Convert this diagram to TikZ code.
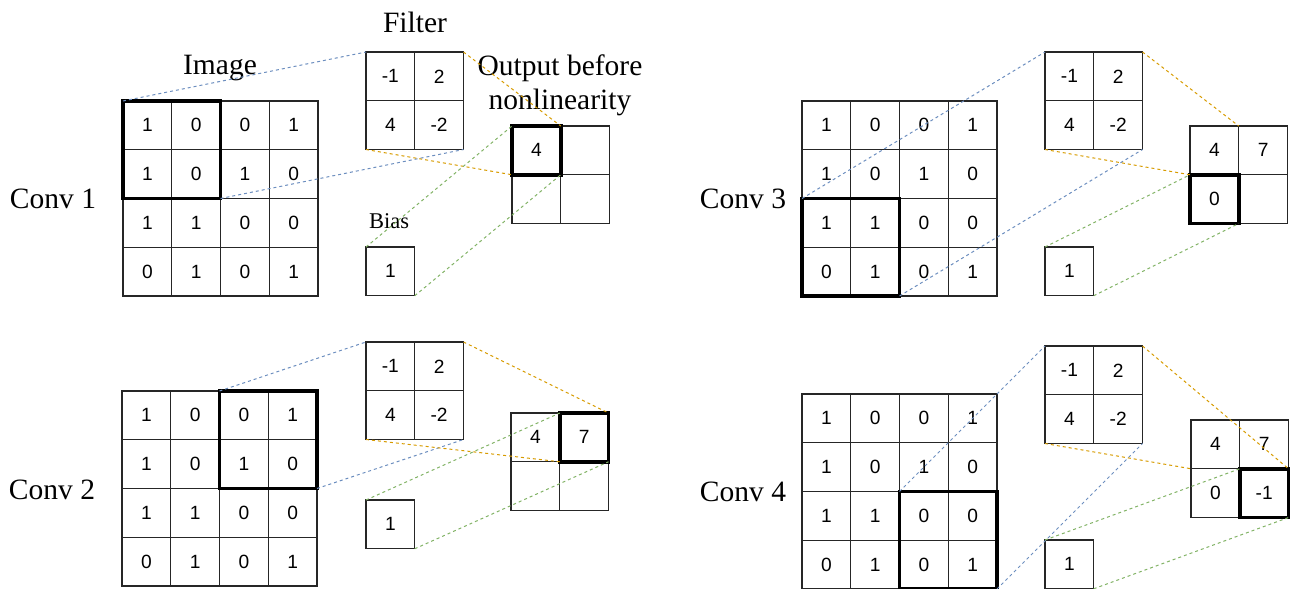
\documentclass[tikz,border=0pt]{standalone}
\usepackage{fontspec}
\setmainfont{Liberation Serif}
\newfontfamily\cellfont{Liberation Sans}
\definecolor{dioblue}{HTML}{6C8EBF}
\definecolor{dioorange}{HTML}{D79B00}
\definecolor{diogreen}{HTML}{82B366}
\tikzset{
  cell/.style={draw=black!85, line width=0.8pt, minimum size=29.25pt, inner sep=0pt, outer sep=0pt,
    font=\cellfont\fontsize{11.5}{12}\selectfont},
  window/.style={draw=black, line width=2.1pt},
  link/.style={line width=0.6pt, dash pattern=on 1.8pt off 1.8pt},
  title/.style={font=\fontsize{17.7}{20.4}\selectfont, anchor=base, inner sep=0pt},
}
\begin{document}
\begin{tikzpicture}[x=0.6pt, y=-0.6pt]
    \useasboundingbox (0,0) rectangle (1296,588);
    % Grids of the four steps
    \foreach \n/\ix/\iy/\fx/\fy/\bx/\by/\ox/\oy/\lx/\ly/\olist in {
        1/123/101/366/52/366/247/512/126/53/208/{4,{},{},{}},
        2/122/391/366/342/366/500/511/413/52/499/{4,7,{},{}},
        3/802/101/1045/52/1045/247/1190/126/743/208/{4,7,0,{}},
        4/802/394/1045/346/1045/540/1191/420/743/501/{4,7,0,-1}}
    {
        \foreach \val [count=\k from 0] in {1,0,0,1,1,0,1,0,1,1,0,0,0,1,0,1} {
            \pgfmathtruncatemacro\rr{div(\k,4)+1}
            \pgfmathtruncatemacro\cc{mod(\k,4)+1}
            \node[cell] (img\n-\rr-\cc) at (\ix+48.75*\cc-24.375, \iy+48.75*\rr-24.375) {\val};
        }
        \foreach \val [count=\k from 0] in {-1,2,4,-2} {
            \pgfmathtruncatemacro\rr{div(\k,2)+1}
            \pgfmathtruncatemacro\cc{mod(\k,2)+1}
            \node[cell] (flt\n-\rr-\cc) at (\fx+48.75*\cc-24.375, \fy+48.75*\rr-24.375) {\val};
        }
        \foreach \val [count=\k from 0] in \olist {
            \pgfmathtruncatemacro\rr{div(\k,2)+1}
            \pgfmathtruncatemacro\cc{mod(\k,2)+1}
            \node[cell] (out\n-\rr-\cc) at (\ox+48.75*\cc-24.375, \oy+48.75*\rr-24.375) {\val};
        }
        \node[cell] (bias\n) at (\bx+24.375, \by+24.375) {1};
        \node[title] (conv\n) at (\lx,\ly) {Conv \n};
    }

    % Headings
    \node[title] (filter) at (415,32) {Filter};
    \node[title] (image) at (220,74) {Image};
    \node[title, anchor=north, align=center] (output) at (560,54) {Output before\\nonlinearity};
    \node[title, font=\fontsize{13.5}{15}\selectfont] (biastext) at (389,228) {Bias};

    % Conv 1
    \draw[window] (img1-1-1.north west) rectangle (img1-2-2.south east);
    \draw[window] (out1-1-1.north west) rectangle (out1-1-1.south east);
    \draw[link, dioblue] (img1-1-1.north west) -- (flt1-1-1.north west) (img1-2-2.south east) -- (flt1-2-2.south east);
    \draw[link, dioorange] (flt1-1-2.north east) -- (out1-1-1.north east) (flt1-2-1.south west) -- (out1-1-1.south west);
    \draw[link, diogreen] (bias1.north west) -- (out1-1-1.north west) (bias1.south east) -- (out1-1-1.south east);

    % Conv 2
    \draw[window] (img2-1-3.north west) rectangle (img2-2-4.south east);
    \draw[window] (out2-1-2.north west) rectangle (out2-1-2.south east);
    \draw[link, dioblue] (img2-1-3.north west) -- (flt2-1-1.north west) (img2-2-4.south east) -- (flt2-2-2.south east);
    \draw[link, dioorange] (flt2-1-2.north east) -- (out2-1-2.north east) (flt2-2-1.south west) -- (out2-1-2.south west);
    \draw[link, diogreen] (bias2.north west) -- (out2-1-2.north west) (bias2.south east) -- (out2-1-2.south east);

    % Conv 3
    \draw[window] (img3-3-1.north west) rectangle (img3-4-2.south east);
    \draw[window] (out3-2-1.north west) rectangle (out3-2-1.south east);
    \draw[link, dioblue] (img3-3-1.north west) -- (flt3-1-1.north west) (img3-4-2.south east) -- (flt3-2-2.south east);
    \draw[link, dioorange] (flt3-1-2.north east) -- (out3-1-1.north east) (flt3-2-1.south west) -- (out3-2-1.north west);
    \draw[link, diogreen] (bias3.north west) -- (out3-2-1.north west) (bias3.south east) -- (out3-2-1.south east);

    % Conv 4
    \draw[window] (img4-3-3.north west) rectangle (img4-4-4.south east);
    \draw[window] (out4-2-2.north west) rectangle (out4-2-2.south east);
    \draw[link, dioblue] (img4-3-3.north west) -- (flt4-1-1.north west) (img4-4-4.south east) -- (flt4-2-2.south east);
    \draw[link, dioorange] (flt4-1-2.north east) -- (out4-2-2.north east) (flt4-2-1.south west) -- (out4-2-1.north west);
    \draw[link, diogreen] (bias4.north west) -- (out4-2-2.north west) (bias4.south east) -- (out4-2-2.south east);
\end{tikzpicture}
\end{document}
